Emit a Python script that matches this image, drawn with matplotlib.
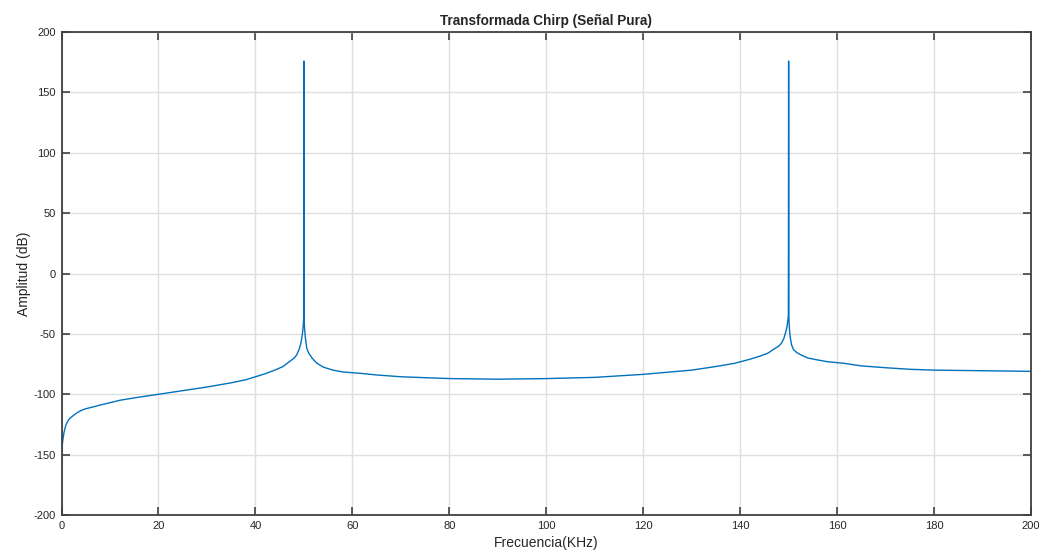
import matplotlib.pyplot as plt

plt.rcParams['font.family'] = ['Liberation Sans', 'DejaVu Sans']
plt.rcParams['axes.unicode_minus'] = False

# Spectrum (kHz, dB)
freq_khz = [0, 0.05, 0.15, 0.3, 0.5, 0.8, 1.07, 1.5, 2, 3.1, 4, 5, 6.5, 7.9, 10,
            12, 15, 20, 25, 30, 35, 38, 40, 42, 44, 45.7, 47, 48, 48.5, 49, 49.3,
            49.5, 49.7, 49.85, 49.95, 50, 50.05, 50.15, 50.3, 50.6, 51, 51.7, 52.6,
            54, 56, 58, 61.5, 65, 70, 80, 90, 100, 110, 120, 130, 135, 138.8, 142,
            144, 145.7, 147, 148, 148.5, 149, 149.5, 149.7, 149.85, 149.95, 150,
            150.05, 150.15, 150.3, 150.6, 151, 151.7, 152.6, 154, 156, 158, 161.5,
            165, 170, 175, 180, 190, 200]
amp_db = [-155, -148, -142, -137, -132, -127, -124, -121, -119, -115.6, -113.5,
          -112, -110.5, -109, -107, -105, -103, -100, -97, -94, -90.5, -88, -85.5,
          -83, -80, -77, -73, -70, -67.5, -63, -59, -55, -50, -44, -38, 176, -38,
          -46, -53, -62, -66, -70, -74, -77.5, -80, -81.5, -82.6, -84, -85.5, -87,
          -87.5, -87, -86, -83.5, -80, -77, -74.4, -71, -68.5, -66, -62.5, -60,
          -57.8, -54, -47, -43, -38, -35, 176, -36, -45, -52, -59, -63, -65.5,
          -67.5, -70, -71.6, -73, -74.4, -76.5, -78, -79.3, -80, -80.5, -81]

x_ticks = [0, 20, 40, 60, 80, 100, 120, 140, 160, 180, 200]
y_ticks = [-200, -150, -100, -50, 0, 50, 100, 150, 200]

fig = plt.figure(figsize=(10.39, 5.53), dpi=100)
ax = fig.add_axes([0.0592, 0.0687, 0.9331, 0.8733])

ax.plot(freq_khz, amp_db, color="#0072BD", linewidth=1.0)

ax.set_xlim(0, 200)
ax.set_ylim(-200, 200)
ax.set_xticks(x_ticks)
ax.set_yticks(y_ticks)
ax.grid(True, color="#E0E0E0", linewidth=1.0)
ax.set_axisbelow(True)

ax.tick_params(direction="in", length=6, width=1.2, colors="#404040",
               top=True, right=True, labelsize=8, labelcolor="#262626", pad=4)
for s in ax.spines.values():
    s.set_color("#404040")
    s.set_linewidth(1.3)

ax.set_title("Transformada Chirp (Señal Pura)", fontsize=9.8, fontweight="bold",
             color="#262626", pad=5)
ax.set_xlabel("Frecuencia(KHz)", fontsize=10, color="#262626", labelpad=4)
ax.set_ylabel("Amplitud (dB)", fontsize=10, color="#262626", labelpad=2)

plt.savefig("out.png", dpi=100)
